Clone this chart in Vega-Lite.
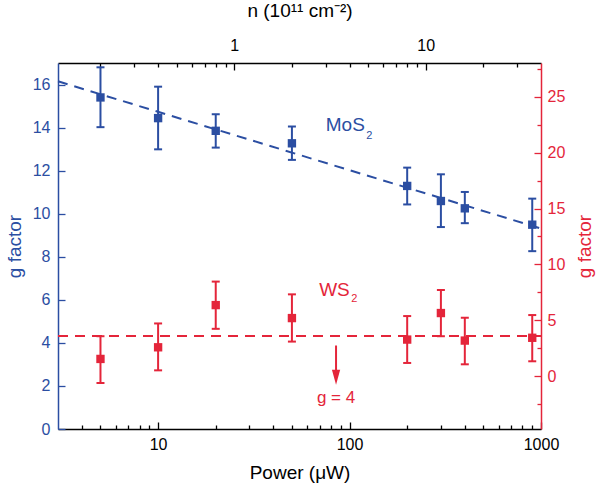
{
  "$schema": "https://vega.github.io/schema/vega-lite/v6.json",
  "width": 483,
  "height": 366,
  "autosize": "none",
  "padding": {"left": 58, "top": 63, "right": 59, "bottom": 65},
  "background": "white",
  "config": {
    "font": "Liberation Sans",
    "view": {"stroke": null},
    "axis": {"grid": false, "domainWidth": 1.5, "tickWidth": 1.3, "labelFontSize": 16, "titleFontSize": 19, "titleFontWeight": "normal", "labelFont": "Liberation Sans", "titleFont": "Liberation Sans", "labelOverlap": false}
  },
  "datasets": {
    "mos2": [
      {"P": 5, "g": 15.40, "lo": 14.02, "hi": 16.80},
      {"P": 10, "g": 14.44, "lo": 12.99, "hi": 15.90},
      {"P": 20, "g": 13.85, "lo": 13.07, "hi": 14.62},
      {"P": 50, "g": 13.27, "lo": 12.50, "hi": 14.05},
      {"P": 200, "g": 11.29, "lo": 10.43, "hi": 12.14},
      {"P": 300, "g": 10.59, "lo": 9.38, "hi": 11.83},
      {"P": 400, "g": 10.25, "lo": 9.56, "hi": 11.01},
      {"P": 900, "g": 9.49, "lo": 8.26, "hi": 10.70}
    ],
    "ws2": [
      {"P": 5, "g": 1.56, "lo": -0.59, "hi": 3.59},
      {"P": 10, "g": 2.60, "lo": 0.54, "hi": 4.73},
      {"P": 20, "g": 6.37, "lo": 4.25, "hi": 8.47},
      {"P": 50, "g": 5.21, "lo": 3.11, "hi": 7.33},
      {"P": 200, "g": 3.29, "lo": 1.20, "hi": 5.39},
      {"P": 300, "g": 5.66, "lo": 3.59, "hi": 7.72},
      {"P": 400, "g": 3.20, "lo": 1.08, "hi": 5.24},
      {"P": 900, "g": 3.45, "lo": 1.35, "hi": 5.48}
    ],
    "mosfit": [{"P": 3, "g": 16.15}, {"P": 1000, "g": 9.31}],
    "wsline": [{"P": 3, "g": 3.6}, {"P": 1000, "g": 3.6}],
    "one": [{"n": 1}],
    "zero": [{"r": 0}]
  },
  "layer": [
    {
      "data": {"name": "mos2"},
      "layer": [
        {
          "data": {"name": "mosfit"},
          "mark": {"type": "line", "color": "#2b4ea2", "strokeDash": [10, 7], "strokeWidth": 2},
          "encoding": {
            "x": {"field": "P", "type": "quantitative", "scale": {"type": "log", "domain": [3, 1000], "nice": false},
              "axis": {"orient": "bottom", "title": "Power (μW)", "values": [4,5,6,7,8,9,10,20,30,40,50,60,70,80,90,100,200,300,400,500,600,700,800,900,1000],
                "format": "d",
                "labelExpr": "(datum.value==10||datum.value==100||datum.value==1000) ? datum.label : ''",
                "tickSize": {"condition": {"test": "datum.value==10||datum.value==100||datum.value==1000", "value": -7}, "value": -4},
                "labelPadding": 14, "titlePadding": 8, "domainColor": "black", "tickColor": "black", "labelColor": "black", "titleColor": "black", "labelFlush": false}},
            "y": {"field": "g", "type": "quantitative", "scale": {"domain": [0, 17], "nice": false},
              "axis": {"orient": "left", "title": "g factor", "values": [0,1,2,3,4,5,6,7,8,9,10,11,12,13,14,15,16],
                "labelExpr": "datum.value % 2 == 0 ? datum.label : ''",
                "tickSize": {"condition": {"test": "datum.value % 2 == 0", "value": -7}, "value": -4},
                "labelPadding": 15, "titlePadding": 8, "domainColor": "#2b4ea2", "tickColor": "#2b4ea2", "labelColor": "#2b4ea2", "titleColor": "#2b4ea2"}}
          }
        },
        {
          "mark": {"type": "rule", "color": "#2b4ea2", "strokeWidth": 2},
          "encoding": {
            "x": {"field": "P", "type": "quantitative"},
            "y": {"field": "lo", "type": "quantitative"},
            "y2": {"field": "hi"}
          }
        },
        {
          "mark": {"type": "tick", "orient": "horizontal", "color": "#2b4ea2", "size": 8, "thickness": 2, "opacity": 1},
          "encoding": {
            "x": {"field": "P", "type": "quantitative"},
            "y": {"field": "hi", "type": "quantitative"}
          }
        },
        {
          "mark": {"type": "tick", "orient": "horizontal", "color": "#2b4ea2", "size": 8, "thickness": 2, "opacity": 1},
          "encoding": {
            "x": {"field": "P", "type": "quantitative"},
            "y": {"field": "lo", "type": "quantitative"}
          }
        },
        {
          "mark": {"type": "point", "shape": "square", "filled": true, "size": 70, "opacity": 1, "color": "#2b4ea2"},
          "encoding": {
            "x": {"field": "P", "type": "quantitative"},
            "y": {"field": "g", "type": "quantitative"}
          }
        },
        {
          "data": {"values": [{}]},
          "mark": {"type": "text", "text": "MoS", "color": "#2b4ea2", "fontSize": 19, "align": "center", "baseline": "middle"},
          "encoding": {"x": {"datum": 95}, "y": {"datum": 14.1}}
        },
        {
          "data": {"values": [{}]},
          "mark": {"type": "text", "text": "2", "color": "#2b4ea2", "fontSize": 11, "align": "center", "baseline": "middle"},
          "encoding": {"x": {"datum": 127}, "y": {"datum": 13.6}}
        }
      ]
    },
    {
      "data": {"name": "ws2"},
      "layer": [
        {
          "data": {"name": "wsline"},
          "mark": {"type": "line", "color": "#e4253a", "strokeDash": [10, 7], "strokeWidth": 2},
          "encoding": {
            "x": {"field": "P", "type": "quantitative", "scale": {"type": "log", "domain": [3, 1000], "nice": false}, "axis": null},
            "y": {"field": "g", "type": "quantitative", "scale": {"domain": [-4.7, 28], "nice": false}, "axis": null}
          }
        },
        {
          "mark": {"type": "rule", "color": "#e4253a", "strokeWidth": 2},
          "encoding": {
            "x": {"field": "P", "type": "quantitative", "axis": null},
            "y": {"field": "lo", "type": "quantitative", "axis": null},
            "y2": {"field": "hi"}
          }
        },
        {
          "mark": {"type": "tick", "orient": "horizontal", "color": "#e4253a", "size": 8, "thickness": 2, "opacity": 1},
          "encoding": {
            "x": {"field": "P", "type": "quantitative", "axis": null},
            "y": {"field": "hi", "type": "quantitative", "axis": null}
          }
        },
        {
          "mark": {"type": "tick", "orient": "horizontal", "color": "#e4253a", "size": 8, "thickness": 2, "opacity": 1},
          "encoding": {
            "x": {"field": "P", "type": "quantitative", "axis": null},
            "y": {"field": "lo", "type": "quantitative", "axis": null}
          }
        },
        {
          "mark": {"type": "point", "shape": "square", "filled": true, "size": 70, "opacity": 1, "color": "#e4253a"},
          "encoding": {
            "x": {"field": "P", "type": "quantitative", "axis": null},
            "y": {"field": "g", "type": "quantitative", "axis": null}
          }
        },
        {
          "data": {"values": [{}]},
          "mark": {"type": "rule", "color": "#e4253a", "strokeWidth": 2},
          "encoding": {"x": {"datum": 85, "axis": null}, "y": {"datum": 2.76, "axis": null}, "y2": {"datum": 0.4}}
        },
        {
          "data": {"values": [{}]},
          "mark": {"type": "point", "shape": "M-0.55,-1L0.55,-1L0,1Z", "filled": true, "size": 225, "opacity": 1, "color": "#e4253a"},
          "encoding": {"x": {"datum": 85, "axis": null}, "y": {"datum": -0.07, "axis": null}}
        },
        {
          "data": {"values": [{}]},
          "mark": {"type": "text", "text": "g = 4", "color": "#e4253a", "fontSize": 17, "align": "center", "baseline": "middle"},
          "encoding": {"x": {"datum": 85, "axis": null}, "y": {"datum": -1.94, "axis": null}}
        },
        {
          "data": {"values": [{}]},
          "mark": {"type": "text", "text": "WS", "color": "#e4253a", "fontSize": 19, "align": "center", "baseline": "middle"},
          "encoding": {"x": {"datum": 83.4, "axis": null}, "y": {"datum": 7.72, "axis": null}}
        },
        {
          "data": {"values": [{}]},
          "mark": {"type": "text", "text": "2", "color": "#e4253a", "fontSize": 11, "align": "center", "baseline": "middle"},
          "encoding": {"x": {"datum": 106, "axis": null}, "y": {"datum": 6.88, "axis": null}}
        }
      ]
    },
    {
      "data": {"name": "one"},
      "mark": {"type": "rule", "opacity": 0},
      "encoding": {
        "x": {"field": "n", "type": "quantitative", "scale": {"type": "log", "domain": [0.12, 40], "nice": false},
          "axis": {"orient": "top", "title": "n (10¹¹ cm⁻²)", "values": [0.2,0.3,0.4,0.5,0.6,0.7,0.8,0.9,1,2,3,4,5,6,7,8,9,10,20,30],
            "format": "~g",
            "labelExpr": "(datum.value==1||datum.value==10) ? datum.label : ''",
            "tickSize": {"condition": {"test": "datum.value==1||datum.value==10", "value": -7}, "value": -4},
            "labelPadding": 17, "titlePadding": 14, "domainColor": "black", "tickColor": "black", "labelColor": "black", "titleColor": "black", "labelFlush": false}}
      }
    },
    {
      "data": {"name": "zero"},
      "mark": {"type": "rule", "opacity": 0},
      "encoding": {
        "y": {"field": "r", "type": "quantitative", "scale": {"domain": [-4.7, 28], "nice": false},
          "axis": {"orient": "right", "title": "g factor", "titleAngle": 270, "values": [-2.5,0,2.5,5,7.5,10,12.5,15,17.5,20,22.5,25,27.5],
            "format": "~g",
            "labelExpr": "abs(datum.value % 5) < 0.01 ? datum.label : ''",
            "tickSize": {"condition": {"test": "abs(datum.value % 5) < 0.01", "value": -7}, "value": -4},
            "labelPadding": 13, "titlePadding": 30, "domainColor": "#e4253a", "tickColor": "#e4253a", "labelColor": "#e4253a", "titleColor": "#e4253a"}}
      }
    }
  ],
  "resolve": {"scale": {"x": "independent", "y": "independent"}}
}
